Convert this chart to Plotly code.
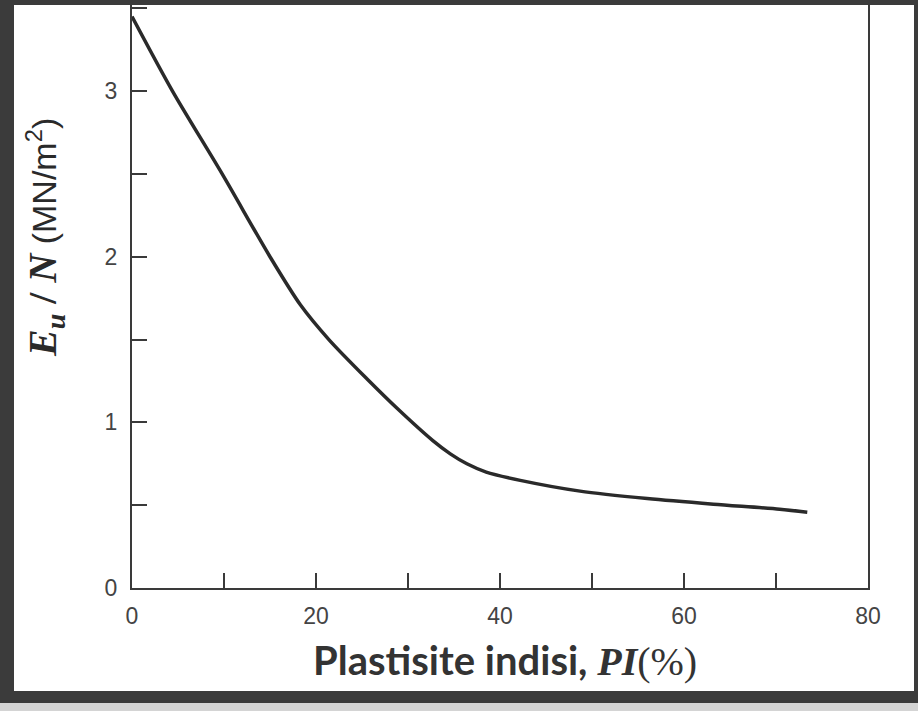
import plotly.graph_objects as go

# Data
pi_values = [0, 4.4, 9.8, 15.0, 18.3, 21.4, 25.5, 29.1, 32.7, 34.6, 36.4, 38.5,
             42.2, 48.7, 56.0, 63.2, 70.4, 73.4]
eu_n_values = [3.45, 3.0, 2.5, 2.0, 1.71, 1.50, 1.265, 1.07, 0.89, 0.81, 0.75, 0.70,
               0.65, 0.585, 0.54, 0.506, 0.476, 0.458]

x_major_step, x_minor_step = 20, 10
y_major_step, y_minor_step = 1, 0.5

W, H = 918, 711
L, R, T, B = 132, 50, 5, 123
PW, PH = W - L - R, H - T - B


def px(x):
    return (x - L) / PW


def py(y):
    return (H - B - y) / PH


fig = go.Figure()
fig.add_trace(go.Scatter(
    x=pi_values, y=eu_n_values, mode="lines",
    line=dict(color="#2a2a2a", width=3.5, shape="spline", smoothing=0.8),
    showlegend=False, hoverinfo="skip",
))

axis_color = "#3a3a3a"
tick_font = dict(family="Liberation Sans, Arial, sans-serif", size=23, color="#444")

fig.update_xaxes(
    range=[0, 80], tick0=0, dtick=x_major_step,
    ticks="inside", ticklen=15, tickwidth=1.8, tickcolor=axis_color,
    minor=dict(ticks="inside", dtick=x_minor_step, ticklen=15, tickwidth=1.8,
               tickcolor=axis_color, showgrid=False),
    showline=True, linecolor=axis_color, linewidth=2, mirror=False,
    showgrid=False, zeroline=False, tickfont=tick_font, ticklabelstandoff=6,
)
fig.update_yaxes(
    range=[0, 3.52], tick0=0, dtick=y_major_step,
    ticks="inside", ticklen=15, tickwidth=1.8, tickcolor=axis_color,
    minor=dict(ticks="inside", dtick=y_minor_step, ticklen=15, tickwidth=1.8,
               tickcolor=axis_color, showgrid=False),
    showline=True, linecolor=axis_color, linewidth=2, mirror=True,
    showgrid=False, zeroline=False, tickfont=tick_font, ticklabelstandoff=8,
)

annotations = [
    dict(
        x=px(46), y=py(238), xref="paper", yref="paper", textangle=-90,
        showarrow=False, xanchor="center", yanchor="middle",
        text=("<span style='font-family:Liberation Serif, DejaVu Serif, serif;font-size:40px'><b><i>E<sub>u</sub></i> / <i>N</i></b></span>"
              "<span style='font-family:Liberation Sans, Arial, sans-serif'> (MN/m<sup>2</sup>)</span>"),
        font=dict(size=34, color="#2a2a2a"),
    ),
    dict(
        x=px(505), y=py(660), xref="paper", yref="paper",
        showarrow=False, xanchor="center", yanchor="middle",
        text=("<span style='font-family:Lato, Open Sans, sans-serif'><b>Plastisite indisi, </b></span>"
              "<span style='font-family:Liberation Serif, DejaVu Serif, serif'><b><i>PI</i></b>(%)</span>"),
        font=dict(size=40, color="#333"),
    ),
]

border = "#3b3b3b"
shapes = [
    dict(type="rect", xref="paper", yref="paper", x0=px(0), x1=px(W), y0=py(703), y1=py(H),
         fillcolor="#d4d4d4", line_width=0, layer="above"),
    dict(type="rect", xref="paper", yref="paper", x0=px(0), x1=px(14), y0=py(703), y1=py(0),
         fillcolor=border, line_width=0, layer="above"),
    dict(type="rect", xref="paper", yref="paper", x0=px(0), x1=px(W), y0=py(5), y1=py(0),
         fillcolor=border, line_width=0, layer="above"),
    dict(type="rect", xref="paper", yref="paper", x0=px(914), x1=px(W), y0=py(703), y1=py(0),
         fillcolor=border, line_width=0, layer="above"),
    dict(type="rect", xref="paper", yref="paper", x0=px(0), x1=px(W), y0=py(703), y1=py(691),
         fillcolor=border, line_width=0, layer="above"),
]

fig.update_layout(
    width=W, height=H, margin=dict(l=L, r=R, t=T, b=B),
    paper_bgcolor="white", plot_bgcolor="white",
    annotations=annotations, shapes=shapes,
)

fig.write_html("out.html", config={"displayModeBar": False},
               post_script="document.body.style.margin='0';")
